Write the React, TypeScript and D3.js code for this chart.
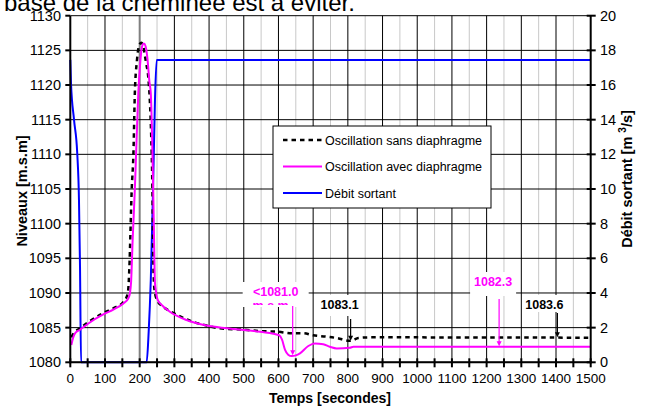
import React from 'react';
import * as d3 from 'd3';

// ---- data ----
const timeSans = [3, 10, 28, 52, 95, 124, 153, 163, 167, 170, 177, 182, 186, 192, 199, 205, 211, 218, 225, 229, 233, 236, 238, 240, 243, 250, 265, 287, 335, 393, 431, 500, 547, 600, 633, 672, 700, 739, 768, 806, 815, 830, 864, 1500];
const levelSans = [1083.6, 1084.2, 1084.9, 1085.8, 1087.1, 1087.8, 1088.7, 1089.5, 1090.5, 1093.3, 1104.9, 1110.2, 1118.8, 1123.5, 1125.8, 1126.1, 1125.4, 1123.3, 1121, 1118, 1113, 1107, 1100, 1093, 1090.3, 1089, 1088.1, 1087.4, 1086.2, 1085.3, 1084.9, 1084.7, 1084.5, 1084.4, 1084.2, 1084.2, 1083.9, 1083.7, 1083.5, 1083.1, 1083.2, 1083.5, 1083.6, 1083.55];

const timeAvec = [3, 8, 14, 28, 52, 95, 124, 153, 167, 172, 175, 180, 186, 191, 196, 202, 207, 212, 217, 222, 228, 232, 236, 239, 242, 244, 247, 252, 265, 287, 335, 393, 451, 547, 602, 610, 619, 628, 638, 650, 662, 686, 705, 729, 748, 768, 806, 816, 1500];
const levelAvec = [1082.5, 1083.5, 1084.2, 1084.7, 1085.6, 1086.9, 1087.6, 1088.5, 1089.2, 1090, 1091.4, 1098, 1104.9, 1112, 1118.8, 1123.5, 1125.6, 1126.0, 1125.6, 1124, 1120.5, 1118.8, 1112, 1104.9, 1096, 1091.5, 1090.2, 1089, 1088.2, 1087.3, 1086.1, 1085.3, 1084.9, 1084.4, 1083.9, 1083.3, 1081.8, 1081.1, 1080.9, 1081.0, 1081.3, 1082.35, 1082.7, 1082.6, 1082.25, 1082.0, 1082.1, 1082.25, 1082.25];

const timeDebit = [0, 2, 10.7, 20, 25, 28, 31, 220, 226, 232, 238, 244, 249, 1500];
const debitValues = [17.45, 16.1, 14, 12.06, 9.37, 5.5, 0, 0, 1.8, 4.75, 9.5, 15.1, 17.45, 17.45];

const xTickLabels = [0, 100, 200, 300, 400, 500, 600, 700, 800, 900, 1000, 1100, 1200, 1300, 1400, 1500];
const leftTickLabels = [1080, 1085, 1090, 1095, 1100, 1105, 1110, 1115, 1120, 1125, 1130];
const rightTickLabels = [0, 2, 4, 6, 8, 10, 12, 14, 16, 18, 20];
const legendLabels = ['Oscillation sans diaphragme', 'Oscillation avec diaphragme', 'Débit sortant'];

const annTexts = ['<1081.0', '1083.1', '1082.3', '1083.6'];
const annTimes = [641, 808, 1236, 1404];
const annLevels = [1081.0, 1083.1, 1082.3, 1083.6];

const titleText = 'base de la cheminée est à éviter.';

// ---- layout / style ----
const W = 646, H = 407;
const FONT = 'Liberation Sans, Arial, sans-serif';
const MAGENTA = '#ff00ff';
const BLUE = '#0000ff';
const DASH = '4.5,4';
// per-annotation label layout
const annLayout = [
  { dx: -17, base: 296, top: 306, bt: 282, bb: 307, w: 66, color: MAGENTA },
  { dx: -11, base: 308.5, top: 319, bt: 295, bb: 316, w: 44, color: '#000' },
  { dx: -6, base: 285.5, top: 299, bt: 272, bb: 296, w: 46, color: MAGENTA },
  { dx: -13, base: 308.5, top: 313, bt: 295, bb: 312, w: 44, color: '#000' },
];

export default function App() {
  const x = d3.scaleLinear().domain([0, 1500]).range([70.3, 590.7]);
  const yL = d3.scaleLinear().domain([1080, 1130]).range([362.3, 15.7]);
  const yR = d3.scaleLinear().domain([0, 20]).range([362.3, 15.7]);

  const lineL = d3.line<number>().curve(d3.curveMonotoneX);
  const sansPath = lineL(timeSans.map((t, i) => [x(t), yL(levelSans[i])]) as any) || '';
  const avecPath = lineL(timeAvec.map((t, i) => [x(t), yL(levelAvec[i])]) as any) || '';
  const debitPath = d3.line().curve(d3.curveMonotoneX)(timeDebit.map((t, i) => [x(t), yR(debitValues[i])]) as any) || '';

  const x0 = x(0), x1 = x(1500), yTop = yL(1130), yBot = yL(1080);
  const minor = d3.range(50, 1500, 50);

  return (
    <svg width={W} height={H} style={{ position: 'absolute', left: 0, top: 0, background: '#fff' }} fontFamily={FONT}>
      <rect width={W} height={H} fill="#fff" />
      {/* title (cropped) */}
      <text x={4} y={11} fontSize={24} fill="#000">{titleText}</text>

      {/* vertical grid */}
      {minor.map((t) => {
        const major = t % 100 === 0;
        const special = t === 200;
        return (
          <line key={'v' + t} x1={x(t)} x2={x(t)} y1={yTop} y2={yBot}
            stroke={special ? '#808080' : major ? '#000' : '#c8c8c8'}
            strokeWidth={special ? 2 : 1} />
        );
      })}
      {/* horizontal grid */}
      {leftTickLabels.map((v) => (
        <line key={'h' + v} x1={x0} x2={x1} y1={yL(v)} y2={yL(v)} stroke="#000" strokeWidth={1} />
      ))}

      {/* curves */}
      <path d={debitPath} fill="none" stroke={BLUE} strokeWidth={2} />
      <path d={sansPath} fill="none" stroke="#000" strokeWidth={2.5} strokeDasharray={DASH} />
      <path d={avecPath} fill="none" stroke={MAGENTA} strokeWidth={2} />

      {/* axes */}
      <line x1={x0} x2={x0} y1={yTop} y2={yBot + 1} stroke="#000" strokeWidth={2} />
      <line x1={x1} x2={x1} y1={yTop} y2={yBot + 1} stroke="#000" strokeWidth={2} />
      <line x1={x0 - 1} x2={x1 + 1} y1={yBot} y2={yBot} stroke="#000" strokeWidth={2} />

      {/* left ticks & labels */}
      {leftTickLabels.map((v) => (
        <g key={'lt' + v}>
          <line x1={x0 - 5} x2={x0} y1={yL(v)} y2={yL(v)} stroke="#000" strokeWidth={2} />
          <text x={61} y={yL(v) + 5} fontSize={14.5} textAnchor="end" fill="#000">{v}</text>
        </g>
      ))}
      {/* right ticks & labels */}
      {rightTickLabels.map((v) => (
        <g key={'rt' + v}>
          <line x1={x1 - 4} x2={x1 + 5} y1={yR(v)} y2={yR(v)} stroke="#000" strokeWidth={2} />
          <text x={600} y={yR(v) + 5} fontSize={14.5} textAnchor="start" fill="#000">{v}</text>
        </g>
      ))}
      {/* bottom ticks */}
      {d3.range(0, 1501, 50).map((t) => (
        <line key={'bt' + t} x1={x(t)} x2={x(t)} y1={yBot - 4} y2={yBot + 5} stroke="#000" strokeWidth={2} />
      ))}
      {xTickLabels.map((t) => (
        <text key={'bl' + t} x={x(t)} y={383} fontSize={13.5} textAnchor="middle" fill="#000">{t}</text>
      ))}

      {/* axis titles */}
      <text x={330} y={403} fontSize={14} fontWeight="bold" textAnchor="middle" fill="#000">Temps [secondes]</text>
      <text transform={`translate(27,191) rotate(-90)`} fontSize={14.5} fontWeight="bold" textAnchor="middle" fill="#000">Niveaux [m.s.m]</text>
      <text transform={`translate(632,179) rotate(-90)`} fontSize={14.5} fontWeight="bold" textAnchor="middle" fill="#000">
        Débit sortant [m <tspan dy={-6} fontSize={10}>3</tspan><tspan dy={6}>/s]</tspan>
      </text>

      {/* legend */}
      <rect x={273} y={126} width={218} height={82} fill="#fff" stroke="#000" strokeWidth={1} />
      {legendLabels.map((lab, i) => {
        const ly = 140 + i * 26.5;
        const st = i === 0 ? '#000' : i === 1 ? MAGENTA : BLUE;
        return (
          <g key={'lg' + i}>
            <line x1={283} x2={322} y1={ly} y2={ly} stroke={st} strokeWidth={i === 0 ? 2.5 : 2}
              strokeDasharray={i === 0 ? DASH : undefined} />
            <text x={325} y={ly + 4.5} fontSize={12.5} fill="#000">{lab}</text>
          </g>
        );
      })}

      {/* annotations */}
      <defs>
        <clipPath id="msmclip">
          <rect x={240} y={295} width={80} height={10} />
        </clipPath>
      </defs>
      {annTexts.map((txt, i) => {
        const L = annLayout[i];
        const ax = x(annTimes[i]);
        const tipY = yL(annLevels[i]);
        const cx = ax + L.dx;
        return (
          <g key={'an' + i}>
            <rect x={cx - L.w / 2} y={L.bt} width={L.w} height={L.bb - L.bt} fill="#fff" />
            <text x={cx} y={L.base} fontSize={12.5} fontWeight="bold" textAnchor="middle" fill={L.color}>{txt}</text>
            {i === 0 && (
              <text x={cx - 5} y={L.base + 14} fontSize={12.5} fontWeight="bold" textAnchor="middle" fill={L.color}
                clipPath="url(#msmclip)">m.s.m</text>
            )}
            <line x1={ax} x2={ax} y1={L.top} y2={tipY - 4} stroke={L.color} strokeWidth={1.2} />
            <path d={`M${ax - 2.5},${tipY - 5}L${ax + 2.5},${tipY - 5}L${ax},${tipY}Z`} fill={L.color} />
          </g>
        );
      })}
    </svg>
  );
}
